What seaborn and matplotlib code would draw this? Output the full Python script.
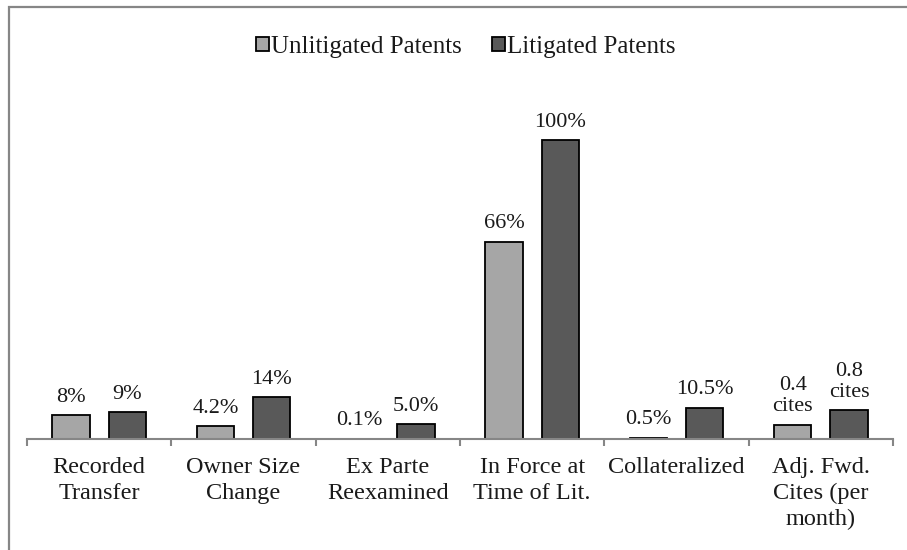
import matplotlib
matplotlib.use("Agg")
import matplotlib.pyplot as plt
import matplotlib.patches as mpatches
import pandas as pd
import seaborn as sns

# Categories on the x axis (two-line labels as in the source chart)
categories = [
    "Recorded\nTransfer",
    "Owner Size\nChange",
    "Ex Parte\nReexamined",
    "In Force at\nTime of Lit.",
    "Collateralized",
    "Adj. Fwd.\nCites (per\nmonth)",
]
series_names = ["Unlitigated Patents", "Litigated Patents"]

# Bar heights (cites bars are on their own scale)
unlitigated = [8, 4.2, 0.1, 66, 0.5, 4.8]
litigated = [9, 14, 5.0, 100, 10.5, 9.6]

# Data label texts shown above each bar
unlitigated_labels = ["8%", "4.2%", "0.1%", "66%", "0.5%", "0.4\ncites"]
litigated_labels = ["9%", "14%", "5.0%", "100%", "10.5%", "0.8\ncites"]

colors = ["#a6a6a6", "#595959"]
axis_gray = "#868686"

df = pd.DataFrame({
    "category": categories * 2,
    "series": [series_names[0]] * len(categories) + [series_names[1]] * len(categories),
    "value": unlitigated + litigated,
})

sns.set_theme(style="white")
plt.rcParams["font.family"] = ["Liberation Serif", "DejaVu Serif"]

fig = plt.figure(figsize=(9.07, 5.5), dpi=100)
ax = fig.add_axes([27 / 907, 1 - 439 / 550, 866 / 907, 379 / 550])

sns.barplot(
    data=df, x="category", y="value", hue="series",
    order=categories, hue_order=series_names,
    palette=colors, width=0.78, gap=0.34,
    edgecolor="black", linewidth=1.3, saturation=1,
    legend=False, ax=ax,
)

ax.set_ylim(0, 100 * 379 / 299)
ax.set_xlim(-0.5, len(categories) - 0.5)

# data labels
for container, labels in zip(ax.containers, [unlitigated_labels, litigated_labels]):
    ax.bar_label(container, labels=labels, padding=6, fontsize=16,
                 color="#1a1a1a", linespacing=1.15)

# axes styling: only a gray baseline with separator ticks
for side in ["top", "right", "left"]:
    ax.spines[side].set_visible(False)
ax.spines["bottom"].set_color(axis_gray)
ax.spines["bottom"].set_linewidth(1.5)
ax.set_yticks([])
ax.set_xlabel("")
ax.set_ylabel("")
ax.set_xticks(range(len(categories)))
ax.set_xticklabels(categories, fontsize=17.5, color="#1a1a1a", linespacing=1.3)
ax.tick_params(axis="x", which="major", length=0, pad=13)
ax.set_xticks([i - 0.5 for i in range(len(categories) + 1)], minor=True)
ax.tick_params(axis="x", which="minor", length=5, width=1.5, color=axis_gray,
               direction="out", bottom=True)

# legend at the top
handles = [mpatches.Patch(facecolor=c, edgecolor="black", linewidth=1.3) for c in colors]
fig.legend(handles, series_names, loc="center", bbox_to_anchor=(466 / 907, 1 - 47 / 550),
           ncol=2, frameon=False, fontsize=18, handlelength=0.5, handleheight=0.5,
           handletextpad=0.1, columnspacing=1.2, labelcolor="#1a1a1a")

# chart area border (only left and top show inside the image)
frame = mpatches.Rectangle((9 / 907, -0.1), 1.2, 1.1 - 7 / 550, transform=fig.transFigure,
                           fill=False, edgecolor=axis_gray, linewidth=1.6)
fig.patches.append(frame)

fig.savefig("out.png", dpi=100)
